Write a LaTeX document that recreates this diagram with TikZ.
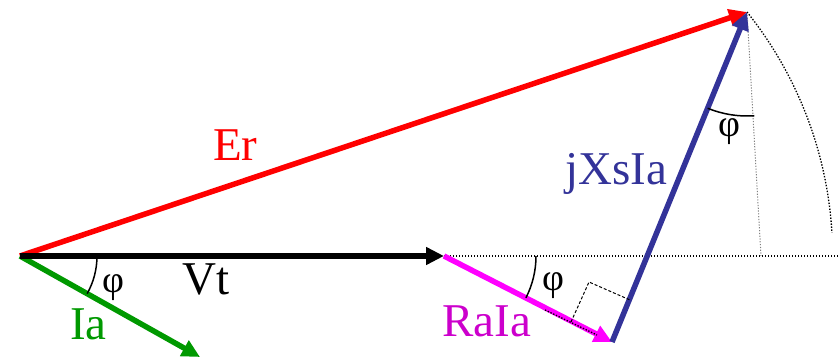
\documentclass[tikz,border=0pt]{standalone}
\usepackage{fontspec}
\setmainfont{Liberation Serif}
\newfontfamily\labelfont{Liberation Serif}
\usetikzlibrary{arrows.meta}
\definecolor{errred}{HTML}{FF0000}
\definecolor{xsblue}{HTML}{333399}
\definecolor{iagreen}{HTML}{009900}
\definecolor{raiapink}{HTML}{FF00FF}
\definecolor{raiatext}{HTML}{CC00CC}
\tikzset{
  phasor/.style={-{Triangle[length=18pt, width=17pt]}, line width=5.5pt},
  anglearc/.style={line width=1.5pt, draw=black},
  guideline/.style={line width=1.3pt, dash pattern=on 1.4pt off 1.6pt},
  grayguide/.style={line width=1pt, draw=gray, dash pattern=on 1.2pt off 1.6pt},
  rightmark/.style={line width=1pt, dash pattern=on 3pt off 2pt},
  veclabel/.style={anchor=base west, inner sep=0pt, font=\labelfont\fontsize{47}{56}\selectfont},
  philabel/.style={inner sep=0pt, font=\labelfont\fontsize{38}{44}\selectfont}
}

\begin{document}
\begin{tikzpicture}[x=1pt, y=1pt]
\useasboundingbox (0,0) rectangle (840,358);
% phasor end points
\coordinate (origin) at (20,102);
\coordinate (vttip) at (444,102);
\coordinate (iatip) at (200,1);
\coordinate (raiatip) at (612,16);
\coordinate (ertip) at (747,346);
\coordinate (hzend) at (840,102);
\coordinate (foot) at (761,102);

% guides
\draw[guideline] (vttip) -- (hzend);
\draw[grayguide] (ertip) -- (foot);
\draw[guideline] (ertip) arc[start angle=38.7, end angle=3.4, radius=390pt];

% phasors
\draw[phasor, draw=errred, fill=errred] (origin) -- (ertip);
\draw[phasor, draw=iagreen, fill=iagreen] (origin) -- (iatip);
\draw[phasor, draw=black] (origin) -- (vttip);
\draw[phasor, draw=raiapink, fill=raiapink] (vttip) -- (raiatip);
\draw[phasor, draw=xsblue, fill=xsblue] (raiatip) -- (ertip);

% right angle
\coordinate (rmA) at (571,36);
\coordinate (rmB) at (589,76);
\coordinate (rmC) at (630,58);
\draw[rightmark] (rmA) -- (rmB) -- (rmC);
\coordinate (dotA) at (545,48);
\coordinate (dotB) at (597,23);
\draw[guideline] (dotA) -- (dotB);

% angles
\draw[anglearc] ([shift={(0:77pt)}]origin) arc[start angle=0, end angle=-29.3, radius=77pt];
\draw[anglearc] ([shift={(0:92pt)}]vttip) arc[start angle=0, end angle=-27.1, radius=92pt];
\draw[anglearc] ([shift={(247.75:104pt)}]ertip) arc[start angle=247.75, end angle=274, radius=104pt];

% labels
\node[veclabel, text=errred] (erlabel) at (213,197) {Er};
\node[veclabel, text=xsblue] (xslabel) at (565,173) {jXsIa};
\node[veclabel, text=black] (vtlabel) at (182,63) {Vt};
\node[veclabel, text=iagreen] (ialabel) at (70,18) {Ia};
\node[veclabel, text=raiatext] (raialabel) at (442,21) {RaIa};
\node[philabel] (phiorigin) at (113,70) {φ};
\node[philabel] (phivt) at (553,72) {φ};
\node[philabel] (phier) at (729,226) {φ};
\end{tikzpicture}
\end{document}
